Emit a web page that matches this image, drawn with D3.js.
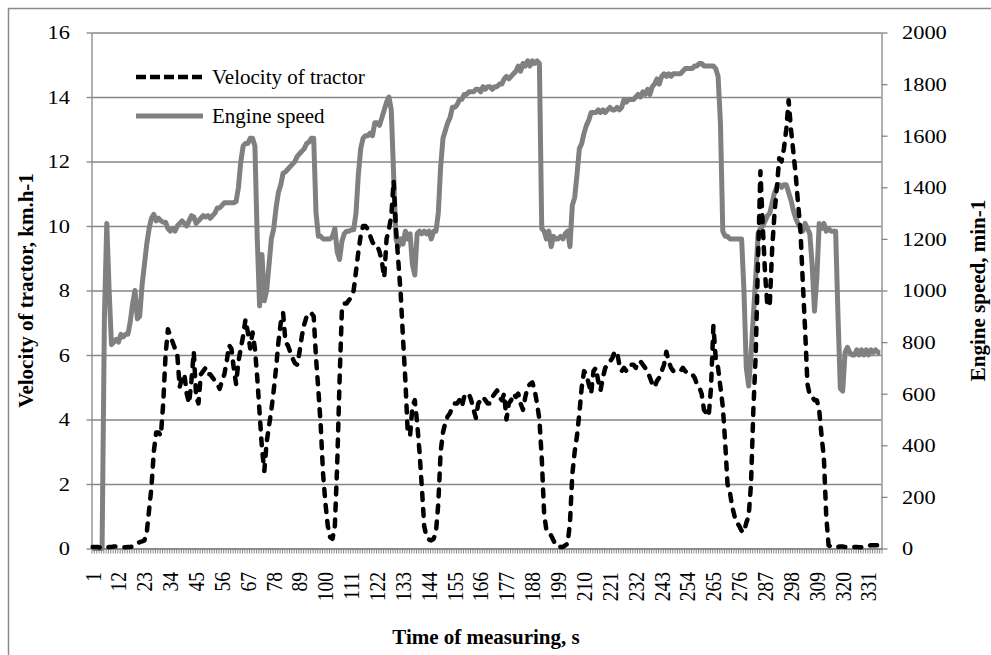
<!DOCTYPE html>
<html>
<head>
<meta charset="utf-8">
<script src="https://cdn.jsdelivr.net/npm/d3@7"></script>
<style>
  body { margin: 0; background: #fff; }
  svg { display: block; font-family: "Liberation Serif", "Times New Roman", serif; }
</style>
</head>
<body>
<div id="chart"></div>
<script>
// velocity of tractor, km/h, one value per second (1..336)
const velocity = [
  0.05,0.05,0.05,0.03,0.02,0.02,0.03,0.05,0.05,0.06,
  0.06,0.05,0.05,0.04,0.04,0.05,0.05,0.06,0.1,0.15,
  0.2,0.22,0.25,0.5,1.2,1.9,3.0,3.6,3.6,3.5,
  4.5,6.0,6.8,6.6,6.4,6.2,6.0,5.0,5.3,5.4,
  4.8,4.5,5.2,6.1,4.7,4.5,5.4,5.5,5.6,5.4,
  5.4,5.3,5.2,5.1,4.95,5.2,5.4,5.8,6.3,6.2,
  5.6,5.1,5.8,6.2,6.6,7.1,6.7,6.2,6.7,6.2,
  5.3,4.2,3.1,2.4,3.3,3.8,4.3,4.9,5.6,6.4,
  7.0,7.3,6.4,6.3,6.1,5.9,5.75,5.7,6.1,6.6,
  6.95,7.2,7.3,7.3,7.2,5.9,4.9,3.8,2.3,1.4,
  0.7,0.35,0.3,0.7,2.6,5.2,7.4,7.6,7.6,7.7,
  7.8,8.0,8.6,9.2,9.7,10.0,10.0,9.9,9.7,9.5,
  9.4,9.4,9.2,8.9,8.4,9.6,9.9,10.3,11.4,9.9,
  8.9,7.9,6.5,5.2,3.6,3.5,4.4,4.6,3.9,3.0,
  1.9,0.7,0.35,0.28,0.25,0.3,0.5,1.4,3.0,3.6,
  3.9,4.1,4.2,4.4,4.5,4.5,4.6,4.4,4.7,4.8,
  4.8,4.6,4.3,4.05,4.5,4.6,4.7,4.6,4.5,4.5,
  4.7,4.8,4.9,4.7,4.6,4.8,4.0,4.5,4.6,4.8,
  4.7,4.8,4.5,4.3,4.7,5.0,5.1,5.15,4.9,4.5,
  4.0,2.8,1.1,0.55,0.5,0.4,0.25,0.1,0.1,0.05,
  0.05,0.1,0.15,0.8,2.3,3.0,3.5,4.2,5.0,5.5,
  5.4,5.1,4.8,5.5,5.6,5.2,4.9,5.3,5.6,5.7,
  5.8,5.9,6.1,6.1,5.7,5.5,5.6,5.5,5.6,5.7,
  5.7,5.6,5.8,5.8,5.7,5.6,5.5,5.3,5.1,5.0,
  5.2,5.3,5.5,5.7,6.1,5.8,5.6,5.5,5.5,5.5,
  5.5,5.6,5.5,5.45,5.4,5.4,5.3,5.1,5.0,4.8,
  4.3,4.2,4.1,5.0,6.9,5.9,5.6,5.0,4.4,3.3,
  2.0,1.75,1.3,1.0,0.8,0.7,0.55,0.5,0.8,1.0,
  2.0,4.3,6.0,9.0,11.7,10.0,8.5,7.5,7.6,9.3,
  10.4,11.2,12.1,12.0,12.4,13.0,13.9,13.0,12.3,11.6,
  10.7,9.9,8.3,6.8,5.1,4.75,4.7,4.6,4.6,4.3,
  3.5,2.8,1.0,0.1,0.05,0.05,0.05,0.05,0.06,0.06,
  0.05,0.05,0.05,0.05,0.05,0.05,0.04,0.04,0.05,0.06,
  0.08,0.1,0.1,0.1,0.1,0.1
];

// engine speed, min-1
const engineSpeed = [
  0,0,0,0,0,900,1260,1000,790,800,
  810,800,830,820,830,830,880,950,1000,890,
  900,1020,1100,1180,1240,1280,1295,1270,1280,1270,
  1265,1265,1240,1230,1240,1230,1250,1260,1270,1260,
  1250,1270,1290,1285,1260,1270,1280,1290,1285,1290,
  1280,1290,1300,1320,1320,1330,1340,1340,1340,1340,
  1340,1345,1400,1500,1560,1570,1570,1590,1590,1560,
  1200,940,1140,960,1000,1100,1200,1240,1320,1380,
  1410,1455,1460,1470,1480,1490,1500,1520,1530,1540,
  1550,1570,1575,1590,1590,1300,1210,1210,1200,1200,
  1200,1200,1210,1240,1150,1120,1190,1220,1230,1230,
  1235,1235,1300,1450,1550,1590,1600,1600,1610,1600,
  1650,1650,1640,1670,1700,1730,1750,1700,1450,1200,
  1170,1200,1180,1230,1200,1220,1100,1060,1220,1230,
  1220,1230,1220,1230,1200,1230,1230,1300,1480,1590,
  1620,1650,1670,1710,1710,1720,1740,1740,1760,1760,
  1770,1770,1770,1780,1780,1770,1790,1780,1790,1790,
  1780,1790,1790,1800,1800,1820,1830,1820,1830,1840,
  1850,1870,1850,1880,1870,1890,1870,1890,1880,1890,
  1880,1240,1230,1200,1230,1170,1210,1200,1200,1210,
  1200,1220,1230,1170,1330,1360,1450,1550,1570,1610,
  1640,1660,1690,1690,1690,1700,1690,1700,1690,1700,
  1710,1700,1700,1710,1700,1710,1740,1730,1740,1740,
  1740,1750,1760,1750,1770,1760,1780,1760,1790,1800,
  1820,1800,1830,1840,1830,1840,1830,1840,1840,1840,
  1840,1850,1860,1860,1860,1860,1870,1870,1880,1880,
  1870,1870,1870,1870,1870,1860,1830,1650,1230,1210,
  1210,1200,1200,1200,1200,1200,1200,1000,700,630,
  750,900,1050,1220,1240,1250,1270,1290,1300,1340,
  1380,1400,1410,1400,1410,1410,1380,1350,1310,1280,
  1260,1240,1230,1260,1240,1220,1100,920,1050,1260,
  1240,1260,1230,1240,1230,1230,1230,900,620,610,
  760,780,760,750,750,770,750,770,750,770,
  750,770,760,770,760,760
];

const velocityTicks = [0, 2, 4, 6, 8, 10, 12, 14, 16];
const engineTicks = [0, 200, 400, 600, 800, 1000, 1200, 1400, 1600, 1800, 2000];
const labelStep = 11;
const seriesNames = ["Velocity of tractor", "Engine speed"];

const width = 991, height = 655;
const plot = {left: 91.5, right: 881.5, top: 32.5, bottom: 548.5};
const grey = "#868686";
const stretch = 1.15; // tick labels in the picture are a bit wide
const tickFont = 19.5;

const categories = d3.range(1, velocity.length + 1);

const svg = d3.select("#chart").append("svg")
  .attr("width", width)
  .attr("height", height);

svg.append("rect").attr("width", width).attr("height", height).attr("fill", "#fff");

// outer frame of the chart
svg.append("rect")
  .attr("x", 8.5).attr("y", 8.5)
  .attr("width", 1000).attr("height", 700)
  .attr("fill", "none").attr("stroke", "#8a8a8a").attr("stroke-width", 1.5);

const xScale = d3.scaleBand().domain(categories).range([plot.left, plot.right]).padding(0);
const xEdge = d3.scaleLinear().domain([0, categories.length]).range([plot.left, plot.right]);
const yLeft = d3.scaleLinear().domain([0, 16]).range([plot.bottom, plot.top]);
const yRight = d3.scaleLinear().domain([0, 2000]).range([plot.bottom, plot.top]);
const xMid = c => xScale(c) + xScale.bandwidth() / 2;

// horizontal gridlines
svg.append("g")
  .attr("transform", "translate(" + plot.left + ",0)")
  .call(d3.axisLeft(yLeft).tickValues(velocityTicks).tickSize(-(plot.right - plot.left)).tickFormat(""))
  .call(g => g.select(".domain").remove())
  .selectAll("line").attr("stroke", grey).attr("stroke-width", 1.3);

// left axis
const leftAxis = svg.append("g")
  .attr("transform", "translate(" + plot.left + ",0)")
  .call(d3.axisLeft(yLeft).tickValues(velocityTicks).tickSize(5).tickSizeOuter(0).tickFormat(""));
leftAxis.selectAll("line, path").attr("stroke", grey).attr("stroke-width", 1.3);

svg.append("g").selectAll("text")
  .data(velocityTicks)
  .enter().append("text")
  .attr("transform", d => "translate(70," + yLeft(d) + ") scale(" + stretch + ",1)")
  .attr("text-anchor", "end")
  .attr("dy", "0.35em")
  .attr("font-size", tickFont)
  .text(d => d);

// right axis
const rightAxis = svg.append("g")
  .attr("transform", "translate(" + plot.right + ",0)")
  .call(d3.axisRight(yRight).tickValues(engineTicks).tickSize(6).tickSizeOuter(0).tickFormat(""));
rightAxis.selectAll("line, path").attr("stroke", grey).attr("stroke-width", 1.3);

svg.append("g").selectAll("text")
  .data(engineTicks)
  .enter().append("text")
  .attr("transform", d => "translate(902," + yRight(d) + ") scale(" + stretch + ",1)")
  .attr("text-anchor", "start")
  .attr("dy", "0.35em")
  .attr("font-size", tickFont)
  .text(d => d);

// category axis, one tick per second
const bottomAxis = svg.append("g")
  .attr("transform", "translate(0," + plot.bottom + ")")
  .call(d3.axisBottom(xEdge).tickValues(d3.range(categories.length + 1)).tickSize(5).tickSizeOuter(0).tickFormat(""));
bottomAxis.selectAll("line").attr("stroke", grey).attr("stroke-width", 1);
bottomAxis.select(".domain").attr("stroke", grey).attr("stroke-width", 1.3);

svg.append("g").selectAll("text")
  .data(categories.filter((c, i) => i % labelStep === 0))
  .enter().append("text")
  .attr("transform", d => "translate(" + xMid(d) + ",572) scale(" + stretch + ",1) rotate(-90)")
  .attr("text-anchor", "end")
  .attr("dy", "0.35em")
  .attr("font-size", tickFont)
  .text(d => d);

// series
const engineLine = d3.line()
  .x((d, i) => xMid(categories[i]))
  .y(d => yRight(d));

const velocityLine = d3.line()
  .x((d, i) => xMid(categories[i]))
  .y(d => yLeft(d));

svg.append("path")
  .datum(engineSpeed)
  .attr("d", engineLine)
  .attr("fill", "none")
  .attr("stroke", "#808080")
  .attr("stroke-width", 5)
  .attr("stroke-linejoin", "round");

svg.append("path")
  .datum(velocity)
  .attr("d", velocityLine)
  .attr("fill", "none")
  .attr("stroke", "#000")
  .attr("stroke-width", 4.5)
  .attr("stroke-linecap", "round")
  .attr("stroke-linejoin", "round")
  .attr("stroke-dasharray", "7,9");

// axis titles
svg.append("text")
  .attr("transform", "translate(26," + (plot.top + plot.bottom) / 2 + ") rotate(-90)")
  .attr("text-anchor", "middle")
  .attr("dy", "0.35em")
  .attr("font-size", 21)
  .attr("font-weight", "bold")
  .text("Velocity of tractor, km.h-1");

svg.append("text")
  .attr("transform", "translate(978," + (plot.top + plot.bottom) / 2 + ") rotate(-90)")
  .attr("text-anchor", "middle")
  .attr("dy", "0.35em")
  .attr("font-size", 21)
  .attr("font-weight", "bold")
  .text("Engine speed, min-1");

svg.append("text")
  .attr("x", 486)
  .attr("y", 637)
  .attr("text-anchor", "middle")
  .attr("dy", "0.35em")
  .attr("font-size", 21)
  .attr("font-weight", "bold")
  .text("Time of measuring, s");

// legend
const legend = svg.append("g")
  .selectAll("g")
  .data(seriesNames)
  .enter().append("g")
  .attr("transform", (d, i) => "translate(136," + (77 + i * 39) + ")");

legend.append("line")
  .attr("x1", 0).attr("x2", 67)
  .attr("stroke", (d, i) => i === 0 ? "#000" : "#808080")
  .attr("stroke-width", (d, i) => i === 0 ? 4.5 : 5)
  .attr("stroke-dasharray", (d, i) => i === 0 ? "10,4" : null);

legend.append("text")
  .attr("x", 76)
  .attr("dy", "0.35em")
  .attr("font-size", 21)
  .text(d => d);
</script>
</body>
</html>
